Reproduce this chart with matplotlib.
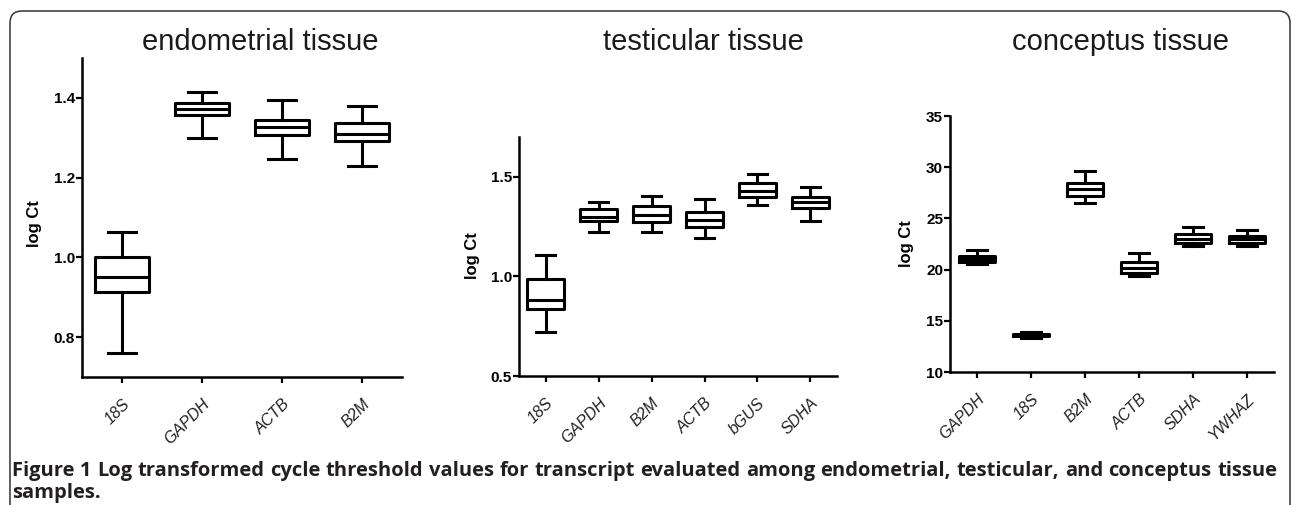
import matplotlib
matplotlib.use("Agg")
import matplotlib.pyplot as plt
from matplotlib.patches import FancyBboxPatch

plt.rcParams['font.family'] = ['Liberation Sans', 'DejaVu Sans']

W, H = 1292, 505

# endometrial tissue
endo_genes = ["18S", "GAPDH", "ACTB", "B2M"]
endo_low = [0.760, 1.300, 1.247, 1.228]
endo_q1 = [0.912, 1.357, 1.307, 1.292]
endo_med = [0.950, 1.372, 1.327, 1.310]
endo_q3 = [1.000, 1.387, 1.345, 1.338]
endo_high = [1.063, 1.415, 1.395, 1.380]

# testicular tissue
test_genes = ["18S", "GAPDH", "B2M", "ACTB", "bGUS", "SDHA"]
test_low = [0.720, 1.225, 1.225, 1.195, 1.360, 1.280]
test_q1 = [0.835, 1.280, 1.275, 1.250, 1.400, 1.345]
test_med = [0.880, 1.300, 1.310, 1.285, 1.430, 1.375]
test_q3 = [0.985, 1.340, 1.355, 1.325, 1.470, 1.400]
test_high = [1.110, 1.375, 1.405, 1.390, 1.515, 1.450]

# conceptus tissue
conc_genes = ["GAPDH", "18S", "B2M", "ACTB", "SDHA", "YWHAZ"]
conc_low = [20.5, 13.35, 26.5, 19.4, 22.3, 22.3]
conc_q1 = [20.7, 13.5, 27.2, 19.7, 22.6, 22.6]
conc_med = [21.0, 13.6, 27.9, 20.2, 23.0, 22.95]
conc_q3 = [21.3, 13.75, 28.5, 20.7, 23.5, 23.3]
conc_high = [21.9, 13.95, 29.6, 21.6, 24.2, 23.9]

caption_bold = "Figure 1"
caption_line1 = ("Log transformed cycle threshold values for transcript evaluated "
                 "among endometrial, testicular, and conceptus tissue")
caption_line2 = "samples."


def box_panel(rect, genes, low, q1, med, q3, high, ylim, yticks, fmt):
    l, b, r, t = rect
    ax = fig.add_axes([l / W, 1 - b / H, (r - l) / W, (b - t) / H])
    stats = []
    for i in range(len(genes)):
        stats.append({"whislo": low[i], "q1": q1[i], "med": med[i],
                      "q3": q3[i], "whishi": high[i], "fliers": []})
    lw = 2.2
    ax.bxp(stats, positions=range(len(genes)), widths=0.68, capwidths=0.36,
           showfliers=False,
           boxprops=dict(color="black", linewidth=lw),
           whiskerprops=dict(color="black", linewidth=lw),
           capprops=dict(color="black", linewidth=lw),
           medianprops=dict(color="black", linewidth=lw))
    ax.set_xlim(-0.5, len(genes) - 0.5)
    ax.set_ylim(*ylim)
    ax.set_yticks(yticks)
    ax.set_yticklabels([fmt % v for v in yticks], fontsize=11, fontweight="bold")
    ax.set_xticks(range(len(genes)))
    ax.set_xticklabels(genes, rotation=45, ha="right", rotation_mode="anchor",
                       fontsize=11.5, style="italic", color="#222222")
    for s in ["top", "right"]:
        ax.spines[s].set_visible(False)
    for s in ["left", "bottom"]:
        ax.spines[s].set_linewidth(1.8)
    ax.tick_params(direction="out", length=4, width=1.6, pad=1)
    ax.tick_params(axis="x", pad=10)
    return ax


fig = plt.figure(figsize=(W / 100, H / 100), dpi=100)

box_panel((82, 377, 402, 58), endo_genes, endo_low, endo_q1, endo_med, endo_q3,
          endo_high, (0.7, 1.5), [0.8, 1.0, 1.2, 1.4], "%.1f")
box_panel((519, 376, 837, 137), test_genes, test_low, test_q1, test_med, test_q3,
          test_high, (0.5, 1.7), [0.5, 1.0, 1.5], "%.1f")
box_panel((950, 372, 1274, 116), conc_genes, conc_low, conc_q1, conc_med, conc_q3,
          conc_high, (10, 35), [10, 15, 20, 25, 30, 35], "%d")

# titles
for x, txt in [(260, "endometrial tissue"), (703, "testicular tissue"),
               (1120, "conceptus tissue")]:
    fig.text(x / W, 1 - 50 / H, txt, ha="center", va="baseline",
             fontsize=21, color="#1a1a1a")

# y labels
for x, y in [(35, 224), (472, 256), (907, 244)]:
    fig.text(x / W, 1 - y / H, "log Ct", rotation=90, ha="center", va="center",
             fontsize=12, fontweight="bold")

# rounded frame
frame = FancyBboxPatch((0.10, -0.5), 12.80, 4.94 + 0.5,
                       boxstyle="round,pad=0,rounding_size=0.12",
                       transform=fig.dpi_scale_trans, fill=False,
                       edgecolor="#333333", linewidth=1.1)
fig.patches.append(frame)

# caption, justified across the first line
fig.canvas.draw()
renderer = fig.canvas.get_renderer()
cap_font = dict(fontsize=14.5, fontweight="bold", color="#231f20",
                family=["Open Sans", "DejaVu Sans"])
words = [caption_bold] + caption_line1.split()
items = []
for w in words:
    t = fig.text(0, 0, w, **cap_font)
    items.append((t, t.get_window_extent(renderer).width))
x0, x1 = 12, 1277
gap = (x1 - x0 - sum(wd for _, wd in items)) / (len(items) - 1)
x = x0
for t, wd in items:
    t.set_position((x / W, 1 - 476 / H))
    x += wd + gap
fig.text(x0 / W, 1 - 498 / H, caption_line2, **cap_font)

fig.savefig("out.png", dpi=100)
